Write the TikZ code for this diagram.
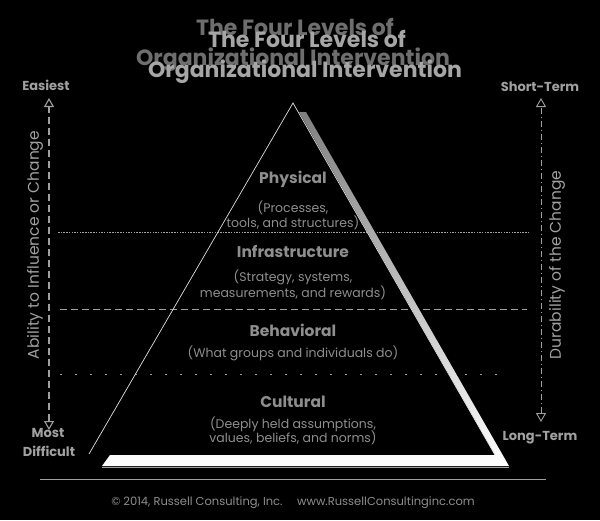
\documentclass[tikz,border=0pt]{standalone}
\usepackage{fontspec}
\setmainfont{Poppins}
\usetikzlibrary{arrows.meta}
\definecolor{tback}{HTML}{6E6E6E}
\definecolor{tfront}{HTML}{A6A6A6}
\definecolor{lbl}{HTML}{A0A0A0}
\definecolor{txt}{HTML}{8E8E8E}
\definecolor{shade}{HTML}{B4B4B4}
\definecolor{edge}{HTML}{E0E0E0}
\tikzset{
  titleback/.style={font=\bfseries\fontsize{22}{26}\selectfont, text=tback, anchor=base, inner sep=0pt},
  titlefront/.style={font=\bfseries\fontsize{22}{26}\selectfont, text=tfront, anchor=base, inner sep=0pt},
  levelhead/.style={font=\bfseries\fontsize{15.5}{18}\selectfont, text=txt, anchor=base, inner sep=0pt},
  leveltext/.style={font=\fontsize{12.5}{14}\selectfont, text=txt, anchor=base, inner sep=0pt},
  sidelabel/.style={font=\bfseries\fontsize{13}{15}\selectfont, text=lbl, anchor=base, inner sep=0pt},
  sidetitle/.style={font=\fontsize{15.5}{18}\selectfont, text=lbl, inner sep=0pt, rotate=90},
  divider/.style={draw=lbl, line width=0.9pt},
  axisarrow/.style={draw=lbl, line width=1.1pt, {Triangle[open,length=9pt,width=10pt]}-{Triangle[open,length=9pt,width=10pt]}},
}
\begin{document}
\begin{tikzpicture}[x=1pt,y=-1pt]
\fill[black] (0,0) rectangle (600,520);
\useasboundingbox (0,0) rectangle (600,520);

% title (two overlapping copies)
\node[titleback] (t1b) at (295,35) {The Four Levels of};
\node[titleback] (t2b) at (293,65) {Organizational Intervention};
\node[titlefront] (t1f) at (307,47) {The Four Levels of};
\node[titlefront] (t2f) at (305,77) {Organizational Intervention};

% dividing lines
\coordinate (d1a) at (58,232); \coordinate (d1b) at (528,232);
\coordinate (d2a) at (60,309); \coordinate (d2b) at (527,309);
\coordinate (d3a) at (60,374); \coordinate (d3b) at (498,374);
\draw[divider, dash pattern=on 1.5pt off 1.2pt] (d1a) -- (d1b);
\draw[divider, dash pattern=on 7pt off 4pt] (d2a) -- (d2b);
\draw[divider, dash pattern=on 2pt off 13pt] (d3a) -- (d3b);

% pyramid
\coordinate (apex) at (293,103);
\coordinate (bl) at (89,454);
\coordinate (br) at (495,455);
\fill[shade] (299,112) -- (306,112) -- (509,466) -- (102,466) -- (110,455) -- (br) -- cycle;
\draw[edge, line width=0.7pt] (bl) -- (apex) -- (br);
\draw[lbl, line width=0.4pt] (102,467) -- (509,467);

% level texts
\node[levelhead] (phys) at (293,183) {Physical};
\node[leveltext] (phys1) at (293,212) {(Processes,};
\node[leveltext] (phys2) at (293,227) {tools, and structures)};
\node[levelhead] (infra) at (293,257) {Infrastructure};
\node[leveltext] (infra1) at (293,281) {(Strategy, systems,};
\node[leveltext] (infra2) at (293,297) {measurements, and rewards)};
\node[levelhead] (beh) at (293,336) {Behavioral};
\node[leveltext] (beh1) at (293,357) {(What groups and individuals do)};
\node[levelhead] (cult) at (293,407) {Cultural};
\node[leveltext] (cult1) at (293,428) {(Deeply held assumptions,};
\node[leveltext] (cult2) at (293,442) {values, beliefs, and norms)};

% left axis
\node[sidelabel] (easy) at (46,90) {Easiest};
\node[sidelabel] (most) at (48,437) {Most};
\node[sidelabel] (diff) at (49,456) {Difficult};
\coordinate (la) at (49,98); \coordinate (lb) at (49,430);
\draw[axisarrow, dash pattern=on 7pt off 4pt] (lb) -- (la);
\node[sidetitle] (ability) at (35,245) {Ability to Influence or Change};

% right axis
\node[sidelabel] (short) at (540,91) {Short-Term};
\node[sidelabel] (long) at (540,440) {Long-Term};
\coordinate (ra) at (541,98); \coordinate (rb) at (541,422);
\draw[axisarrow, line width=0.9pt, dash pattern=on 6pt off 3pt on 1pt off 3pt] (rb) -- (ra);
\node[sidetitle] (dur) at (557,265) {Durability of the Change};

% footer
\coordinate (fa) at (40,479); \coordinate (fb) at (546,479);
\draw[lbl, line width=1pt] (fa) -- (fb);
\node[leveltext, font=\fontsize{11.5}{13}\selectfont] (copy) at (293,505) {© 2014, Russell Consulting, Inc.\quad\ www.RussellConsultinginc.com};
\end{tikzpicture}
\end{document}
